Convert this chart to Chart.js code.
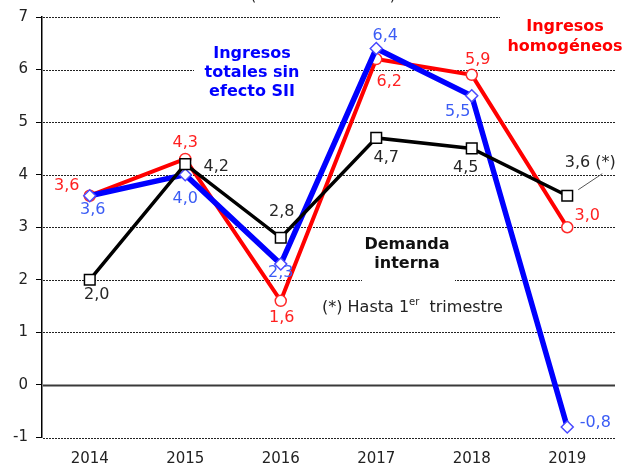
<!DOCTYPE html>
<html><head><meta charset="utf-8">
<script src="https://cdn.jsdelivr.net/npm/chart.js@4.4.1/dist/chart.umd.min.js"></script>
<style>html,body{margin:0;padding:0;background:#fff}#wrap{width:624px;height:465px}</style>
</head><body><div id="wrap"><canvas id="c" width="624" height="465"></canvas></div>
<script>
// ---- data ----
const years = ['2014','2015','2016','2017','2018','2019'];
const ingresosHomogeneos = [3.6, 4.3, 1.6, 6.2, 5.9, 3.0];
const ingresosTotalesSinSII = [3.6, 4.0, 2.3, 6.4, 5.5, -0.8];
const demandaInterna = [2.0, 4.2, 2.8, 4.7, 4.5, 3.6];
const demandaSuffix = ['', '', '', '', '', ' (*)'];
const yTicks = [-1, 0, 1, 2, 3, 4, 5, 6, 7];

// ---- label placement (offset from point, px) ----
const placeRed  = [[-23,-10],[0,-16],[1,17],[13,23],[6,-15],[20,-11]];
const placeBlue = [[3,14],[0,24],[0,9],[9,-13],[-14,16],[28,-4]];
const placeBlack= [[7,15],[31,3],[1,-26],[10,20],[-6,19],[23,-33]];

const FONT = '"DejaVu Sans", Verdana, sans-serif';
const fmt = v => v.toFixed(1).replace('.', ',');

const deco = {
  id: 'deco',
  beforeDatasetsDraw(chart) {
    const {ctx, chartArea: a, scales: {y}} = chart;
    ctx.save();
    yTicks.forEach(v => {
      const py = Math.round(y.getPixelForValue(v)) + 0.5;
      ctx.beginPath();
      if (v === 0) { ctx.setLineDash([]); ctx.strokeStyle = '#3a3a3a'; ctx.lineWidth = 2; }
      else { ctx.setLineDash([2, 1]); ctx.strokeStyle = '#222'; ctx.lineWidth = 1; }
      ctx.moveTo(a.left + 1, py); ctx.lineTo(a.right, py); ctx.stroke();
    });
    ctx.setLineDash([]);
    // white backgrounds behind annotations
    ctx.fillStyle = '#fff';
    ctx.fillRect(194, 40, 116, 64);
    ctx.fillRect(500, 8, 124, 52);
    ctx.fillRect(362, 232, 93, 52);
    // annotations
    ctx.textAlign = 'center'; ctx.textBaseline = 'middle';
    ctx.font = 'bold 16px ' + FONT;
    ctx.fillStyle = '#0000ff';
    ['Ingresos', 'totales sin', 'efecto SII'].forEach((t, i) => ctx.fillText(t, 252, 54 + i * 19));
    ctx.fillStyle = '#ff0000';
    ['Ingresos', 'homogéneos'].forEach((t, i) => ctx.fillText(t, 565, 27 + i * 20));
    ctx.fillStyle = '#111';
    ['Demanda', 'interna'].forEach((t, i) => ctx.fillText(t, 407, 245 + i * 18.5));
    // footnote with superscript
    ctx.textAlign = 'left'; ctx.textBaseline = 'alphabetic';
    ctx.fillStyle = '#222';
    let xx = 322; const by = 312;
    ctx.font = '16px ' + FONT;
    ctx.fillText('(*) Hasta 1', xx, by); xx += ctx.measureText('(*) Hasta 1').width;
    ctx.font = '10px ' + FONT;
    ctx.fillText('er', xx, by - 7); xx += ctx.measureText('er').width;
    ctx.font = '16px ' + FONT;
    ctx.fillText('  trimestre', xx, by);
    // cut-off title (only its lowest pixels are visible)
    ctx.textAlign = 'center'; ctx.textBaseline = 'alphabetic';
    ctx.font = '15.5px ' + FONT;
    ctx.fillText('(tasa de variación)', 323, -0.5);
    ctx.restore();
  },
  afterDatasetsDraw(chart) {
    const {ctx} = chart;
    ctx.save();
    ctx.textAlign = 'center'; ctx.textBaseline = 'middle';
    ctx.font = '16px ' + FONT;
    const groups = [
      [2, ingresosHomogeneos, placeRed, '#ff2020', () => ''],
      [1, ingresosTotalesSinSII, placeBlue, '#3b5cf5', () => ''],
      [0, demandaInterna, placeBlack, '#262626', i => demandaSuffix[i]]
    ];
    groups.forEach(([di, vals, place, col, suf]) => {
      const meta = chart.getDatasetMeta(di);
      ctx.fillStyle = col;
      vals.forEach((v, i) => {
        const p = meta.data[i];
        ctx.fillText(fmt(v) + suf(i), p.x + place[i][0], p.y + place[i][1]);
      });
    });
    // leader line for 3,6 (*)
    const p = chart.getDatasetMeta(0).data[5];
    ctx.strokeStyle = '#555'; ctx.lineWidth = 1;
    ctx.beginPath(); ctx.moveTo(p.x + 11, p.y - 6); ctx.lineTo(p.x + 35, p.y - 22); ctx.stroke();
    ctx.restore();
  }
};

new Chart(document.getElementById('c'), {
  type: 'line',
  data: {
    labels: years,
    datasets: [
      { label: 'Demanda interna', data: demandaInterna, order: 0,
        borderColor: '#000', borderWidth: 3.5, pointStyle: 'rect', pointRadius: 7.5,
        pointBackgroundColor: '#fff', pointBorderColor: '#000', pointBorderWidth: 1.5, tension: 0 },
      { label: 'Ingresos totales sin efecto SII', data: ingresosTotalesSinSII, order: 1,
        borderColor: '#0000ff', borderWidth: 5.5, pointStyle: 'rectRot', pointRadius: 6,
        pointBackgroundColor: '#fff', pointBorderColor: '#4a4aff', pointBorderWidth: 1.5, tension: 0 },
      { label: 'Ingresos homogéneos', data: ingresosHomogeneos, order: 2,
        borderColor: '#ff0000', borderWidth: 4, pointStyle: 'circle', pointRadius: 5.5,
        pointBackgroundColor: '#fff', pointBorderColor: '#ff2a2a', pointBorderWidth: 1.5, tension: 0 }
    ]
  },
  options: {
    responsive: false, animation: false, devicePixelRatio: 1,
    layout: { padding: { top: 16.5, right: 7, left: 0, bottom: 0 } },
    plugins: { legend: { display: false }, tooltip: { enabled: false }, title: { display: false } },
    scales: {
      x: {
        offset: true,
        grid: { display: false },
        border: { display: false },
        ticks: { color: '#222', font: { family: FONT, size: 15 }, padding: 5, maxRotation: 0 },
        afterFit(s) { s.height = 27.5; }
      },
      y: {
        min: -1, max: 7,
        grid: { drawOnChartArea: false, drawTicks: true, tickLength: 6, color: '#000', lineWidth: 1 },
        border: { display: true, color: '#000', width: 1.5 },
        ticks: { stepSize: 1, color: '#222', font: { family: FONT, size: 15 }, padding: 8 },
        afterFit(s) { s.width = 42; }
      }
    }
  },
  plugins: [deco]
});
</script></body></html>
